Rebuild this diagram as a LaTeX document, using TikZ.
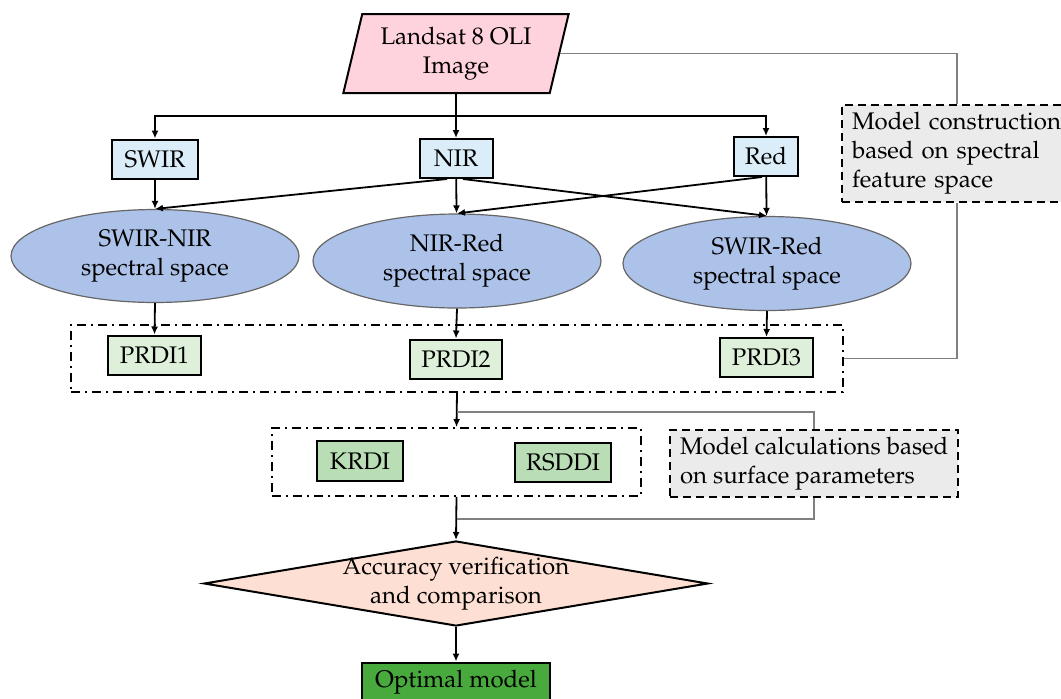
\documentclass[tikz,border=0pt]{standalone}
\usepackage[T1]{fontenc}
\usepackage{mathpazo}
\usetikzlibrary{shapes.geometric,arrows.meta}

\definecolor{imgfill}{HTML}{FFD3DD}
\definecolor{bandfill}{HTML}{DAEDF8}
\definecolor{spacefill}{HTML}{ADC2E8}
\definecolor{prdifill}{HTML}{DEF0D9}
\definecolor{indexfill}{HTML}{B9DEB5}
\definecolor{bestfill}{HTML}{48AA3C}
\definecolor{notefill}{HTML}{EBEBEB}
\definecolor{checkfill}{HTML}{FDE0D3}

\begin{document}
\begin{tikzpicture}[x=0.5pt,y=-0.5pt,
  font=\fontsize{12}{14.5}\selectfont,
  box/.style={draw,line width=1pt,inner sep=0pt,minimum height=19.5pt},
  arr/.style={-{Latex[length=4pt,width=3.5pt]},line width=0.9pt},
  link/.style={draw=black!50,line width=0.7pt},
  group/.style={draw,line width=0.9pt,dash pattern=on 4.5pt off 2.5pt on 1pt off 2.5pt},
  note/.style={draw,fill=notefill,line width=1pt,dash pattern=on 4pt off 2.5pt,align=left,inner xsep=5pt,inner ysep=2pt,anchor=west},
  space/.style={ellipse,draw=black!60,line width=0.6pt,fill=spacefill,align=center,minimum width=144pt,minimum height=38.5pt}]
\useasboundingbox (0,0) rectangle (1061,698);

\node[trapezium,trapezium left angle=76,trapezium right angle=104,trapezium stretches=true,
  draw,line width=1pt,fill=imgfill,align=center,minimum width=113pt,minimum height=39.5pt]
  (img) at (456,53.5) {Landsat 8 OLI\\Image};

\node[box,fill=bandfill,minimum width=43pt] (swir) at (155,159) {SWIR};
\node[box,fill=bandfill,minimum width=36.5pt] (nir) at (456,158.5) {NIR};
\node[box,fill=bandfill,minimum width=32pt] (red) at (766,156.5) {Red};

\node[space] (s1) at (155,256) {SWIR-NIR\\spectral space};
\node[space] (s2) at (457,261) {NIR-Red\\spectral space};
\node[space] (s3) at (767,263.5) {SWIR-Red\\spectral space};

\node[group,minimum width=386pt,minimum height=33.5pt] (g1) at (457,358.5) {};
\node[box,fill=prdifill,minimum width=46.5pt] (p1) at (154.5,355) {PRDI1};
\node[box,fill=prdifill,minimum width=46pt] (p2) at (456,359) {PRDI2};
\node[box,fill=prdifill,minimum width=46.5pt] (p3) at (766.5,357.5) {PRDI3};

\node[group,minimum width=184.5pt,minimum height=34pt] (g2) at (456.5,462) {};
\node[box,fill=indexfill,minimum width=43pt,minimum height=20pt] (krdi) at (360,461) {KRDI};
\node[box,fill=indexfill,minimum width=48pt] (rsddi) at (563,462.5) {RSDDI};

\node[note,text width=105pt,minimum height=48.5pt] (n1) at (841,153.5) {Model construction\\based on spectral\\feature space};
\node[note,minimum height=33.5pt] (n2) at (669,463.5) {Model calculations based\\on surface parameters};

\node[diamond,draw,line width=1pt,fill=checkfill,inner sep=0pt,minimum width=252pt,minimum height=42.5pt,
  label={[align=center]center:{Accuracy verification\\and comparison}}] (acc) at (456,583.5) {};
\node[box,fill=bestfill,minimum width=94pt,minimum height=20pt] (opt) at (456,682.5) {Optimal model};

\coordinate (top) at (456,116);
\coordinate (b1) at (457,412);
\coordinate (b2) at (457,519);

\draw[arr] (img) -- (nir);
\draw[arr] (top) -| (swir);
\draw[arr] (top) -| (red);

\draw[arr] (swir) -- (s1);
\draw[arr] ([xshift=-4.5pt]nir.south) -- (s1.north);
\draw[arr] (nir) -- (s2);
\draw[arr] ([xshift=3.5pt]nir.south) -- (s3.north);
\draw[arr] ([xshift=-2pt]red.south) -- (s2.north);
\draw[arr] (red) -- (s3);

\draw[arr] (s1.south) -- (p1.north);
\draw[arr] (s2.south) -- (p2.north);
\draw[arr] (s3.south) -- (p3.north);

\draw[arr] (g1.south) -- (g2.north);
\draw[arr] (g2.south) -- (acc.north);
\draw[arr] (acc) -- (opt);

\draw[link] (img.east) -| (n1.north);
\draw[link] (n1.south) |- (g1.east);
\draw[link] (b1) -| (n2.north);
\draw[link] (n2.south) |- (b2);
\end{tikzpicture}
\end{document}
